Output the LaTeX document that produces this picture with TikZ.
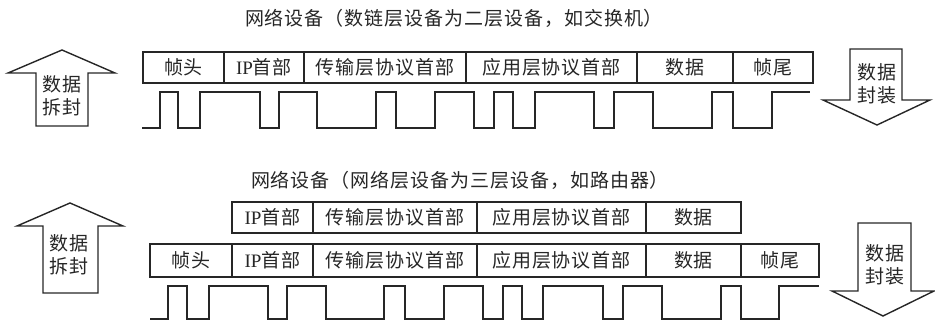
\documentclass[tikz,border=0pt]{standalone}
\usepackage{fontspec}
\setmainfont{Liberation Serif}
\newfontfamily\cjk[LetterSpace=5]{Noto Sans CJK SC}
\newfontfamily\latinrm{Liberation Serif}
\begin{document}
\begin{tikzpicture}[x=1pt,y=-1pt,
  ln/.style={draw=black!85, line width=1.4pt, line join=miter},
  txt/.style={text=black!85, font=\fontsize{19}{23}\selectfont\cjk, inner sep=0pt, align=center},
  cell/.style={ln, txt, rectangle, minimum height=31pt},
  wave/.style={draw=black!85, line width=1.4pt}
]
\useasboundingbox (0,0) rectangle (935,320);

% ---------- top section ----------
\node[txt] (t1) at (454,18) {网络设备（数链层设备为二层设备，如交换机）};

\node[cell, minimum width=81pt]  (a1) at (183.5,67.5) {帧头};
\node[cell, minimum width=80pt]  (a2) at (264,67.5)   {{\latinrm IP}首部};
\node[cell, minimum width=162pt] (a3) at (385,67.5)   {传输层协议首部};
\node[cell, minimum width=171pt] (a4) at (551.5,67.5) {应用层协议首部};
\node[cell, minimum width=96pt]  (a5) at (685,67.5)   {数据};
\node[cell, minimum width=80pt]  (a6) at (773,67.5)   {帧尾};

\draw[wave] (142,128) -| (160,92) -| (178,128) -| (200,92) -| (260,128) -| (279,92)
  -| (317,128) -| (376,92) -| (396,128) -| (435,92) -| (474,128) -| (494,92)
  -| (513,128) -| (535,92) -| (594,128) -| (614,92) -| (653,128) -| (712,92)
  -| (733,128) -| (772,92) -- (810,92);

% up arrow (top left)
\draw[ln] (62,50) -- (115,73) -- (88,73) -- (88,126) -- (36,126) -- (36,73) -- (8,73) -- cycle;
\node[txt] (ua1) at (62,96) {数据\\拆封};

% down arrow (top right)
\draw[ln] (850,49) -- (902,49) -- (902,100) -- (930,100) -- (877,125) -- (823,100) -- (850,100) -- cycle;
\node[txt] (da1) at (877,83.5) {数据\\封装};

% ---------- bottom section ----------
\node[txt] (t2) at (460,180) {网络设备（网络层设备为三层设备，如路由器）};

\node[cell, minimum width=81pt]  (b2) at (272.5,217.5) {{\latinrm IP}首部};
\node[cell, minimum width=164pt] (b3) at (395,217.5)   {传输层协议首部};
\node[cell, minimum width=169pt] (b4) at (561.5,217.5) {应用层协议首部};
\node[cell, minimum width=95pt]  (b5) at (693.5,217.5) {数据};

\node[cell, minimum width=82pt, minimum height=33pt]  (c1) at (191,260.5)   {帧头};
\node[cell, minimum width=81pt, minimum height=33pt]  (c2) at (272.5,260.5) {{\latinrm IP}首部};
\node[cell, minimum width=164pt, minimum height=33pt] (c3) at (395,260.5)   {传输层协议首部};
\node[cell, minimum width=169pt, minimum height=33pt] (c4) at (561.5,260.5) {应用层协议首部};
\node[cell, minimum width=95pt, minimum height=33pt]  (c5) at (693.5,260.5) {数据};
\node[cell, minimum width=78pt, minimum height=33pt]  (c6) at (780,260.5)   {帧尾};

\draw[wave] (150,319) -| (168,286) -| (187,319) -| (209,286) -| (268,319) -| (287,286)
  -| (326,319) -| (384,286) -| (405,319) -| (444,286) -| (483,319) -| (503,286)
  -| (522,319) -| (543,286) -| (603,319) -| (623,286) -| (662,319) -| (721,286)
  -| (741,319) -| (779,286) -- (819,286);

% up arrow (bottom left)
\draw[ln] (70,203) -- (123,226) -- (98,226) -- (98,293) -- (43,293) -- (43,226) -- (17,226) -- cycle;
\node[txt] (ua2) at (69,255) {数据\\拆封};

% down arrow (bottom right)
\draw[ln] (858,223) -- (911,223) -- (911,291) -- (934,291) -- (883,316) -- (832,291) -- (858,291) -- cycle;
\node[txt] (da2) at (885,264.5) {数据\\封装};
\end{tikzpicture}
\end{document}
